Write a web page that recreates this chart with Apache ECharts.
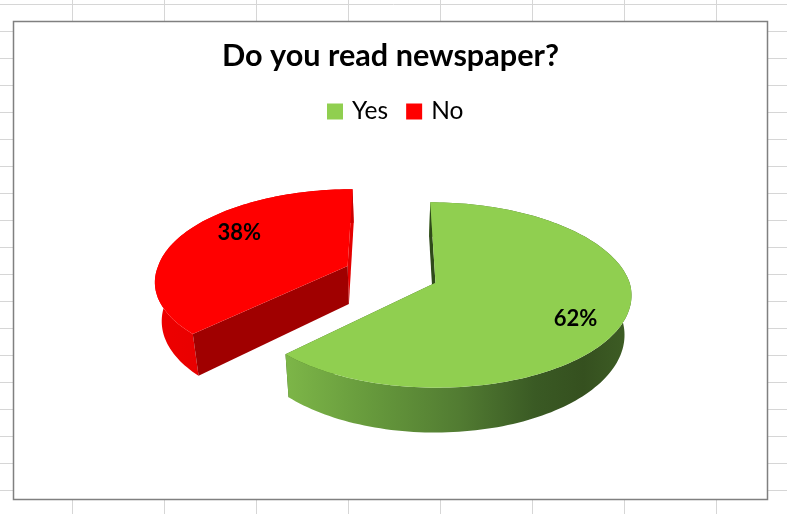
<!DOCTYPE html>
<html>
<head>
<meta charset="utf-8">
<style>html,body{margin:0;padding:0;background:#fff}#c{width:787px;height:514px}</style>
<script src="https://cdn.jsdelivr.net/npm/echarts@6/dist/echarts.min.js"></script>
</head>
<body>
<div id="c"></div>
<script>
const titleText = 'Do you read newspaper?';
const categories = ['Yes', 'No'];
// Labels print 62% and 38%; the drawn slice edge sits slightly past 62, so the estimate carries one decimal.
const percents = [62.4, 37.6];
const topColors = ['#90cf50', '#ff0000'];
// label spots on the pie plane (fraction of radius across, fraction of radius back)
const labelSpots = [[0.674, -0.375], [-0.613, 0.396]];

// Perspective camera for the tilted pie
const cam = {xc: 391, yh: -406, Dc: 0.00147, d: 0.000192, R: 194, ref: 688, explode: 48, thick: 0.0565, conv: 0.029, skew: 5};

function project(X, v) {
  const inv = 1 / (cam.Dc + cam.d * v);
  return [cam.xc + X * inv / cam.ref, cam.yh + inv];
}
function lower(p) {
  const inv = p[1] - cam.yh;
  return [p[0] + (cam.xc - p[0]) * cam.conv, p[1] + inv * cam.thick];
}
const grad = (stops) => new echarts.graphic.LinearGradient(0, 0, 1, 0,
  stops.map((c) => ({offset: c[0], color: c[1]})));

const wallFill = [
  grad([[0, '#7db648'], [0.25, '#66993c'], [0.5, '#527c32'], [0.72, '#3a5a24'], [0.86, '#35501f'], [1, '#3e5e25']]),
  grad([[0, '#ee0000'], [0.6, '#e00000'], [1, '#cc0000']])
];
const frontCut = ['#3d5f22', '#a00000'];
const backCut = ['#2f4a1a', '#e40000'];

function renderSlice(i, api) {
  const total = percents.reduce((a, b) => a + b, 0);
  const before = percents.slice(0, i).reduce((a, b) => a + b, 0);
  const a0 = before / total * Math.PI * 2;
  const a1 = a0 + api.value(0) / total * Math.PI * 2;
  const mid = (a0 + a1) / 2;
  const ox = Math.sin(mid) * cam.explode;
  const ov = Math.cos(mid) * cam.explode / cam.R;
  const at = (a) => {
    const c = Math.cos(a);
    return project(ox + cam.R * Math.sin(a) + (c < 0 ? cam.skew * c : 0), ov + c);
  };
  const apex = project(ox, ov);
  const rimTop = [];
  const n = Math.ceil((a1 - a0) / (Math.PI / 120));
  for (let k = 0; k <= n; k++) rimTop.push(at(a0 + (a1 - a0) * k / n));
  const rimLow = rimTop.map(lower).reverse();
  const poly = (pts, fill) => ({type: 'polygon', shape: {points: pts}, style: {fill: fill}});
  const first = rimTop[0], last = rimTop[rimTop.length - 1];
  const startCut = poly([apex, first, lower(first), lower(apex)], i === 0 ? backCut[0] : frontCut[1]);
  const endCut = poly([apex, last, lower(last), lower(apex)], i === 0 ? frontCut[0] : backCut[1]);
  const spot = project(ox + cam.R * labelSpots[i][0], ov + labelSpots[i][1]);
  return {
    type: 'group',
    children: [
      endCut,
      poly(rimTop.concat(rimLow), wallFill[i]),
      startCut,
      poly([apex].concat(rimTop), topColors[i]),
      {type: 'text', style: {
        text: Math.round(api.value(0) / total * 100) + '%',
        x: spot[0], y: spot[1], align: 'center', verticalAlign: 'middle',
        fill: '#000', font: 'bold 22px Lato'
      }}
    ]
  };
}

// Spreadsheet gridlines behind the chart
const gridLines = [];
for (let x = 72.5; x < 787; x += 92) gridLines.push({type: 'line', z: 0, shape: {x1: x, y1: 0, x2: x, y2: 514}, style: {stroke: '#d6d6d6', lineWidth: 1}});
for (let y = 4.5; y < 514; y += 27) gridLines.push({type: 'line', z: 0, shape: {x1: 0, y1: y, x2: 787, y2: y}, style: {stroke: '#d6d6d6', lineWidth: 1}});
gridLines.push({type: 'rect', z: 1, shape: {x: 13.5, y: 21.5, width: 754, height: 478}, style: {fill: '#fff', stroke: '#808080', lineWidth: 1.5}});

const chart = echarts.init(document.getElementById('c'), null, {renderer: 'canvas'});
chart.setOption({
  animation: false,
  backgroundColor: '#fff',
  title: {
    text: titleText, left: 385.5, top: 36, textAlign: 'center',
    textStyle: {fontFamily: 'Lato', fontWeight: 'bold', fontSize: 30.6, color: '#000'}
  },
  legend: {
    data: categories, left: 322, top: 94, icon: 'rect', itemWidth: 16, itemHeight: 16, itemGap: 18,
    textStyle: {fontFamily: 'Lato', fontSize: 24.5, color: '#000', padding: [0, 0, 0, 4]}
  },
  graphic: {elements: gridLines},
  series: categories.map((name, i) => ({
    type: 'custom', name: name, coordinateSystem: 'none', silent: true,
    itemStyle: {color: topColors[i]},
    data: [[percents[i]]],
    renderItem: (params, api) => renderSlice(i, api)
  }))
});
</script>
</body>
</html>
